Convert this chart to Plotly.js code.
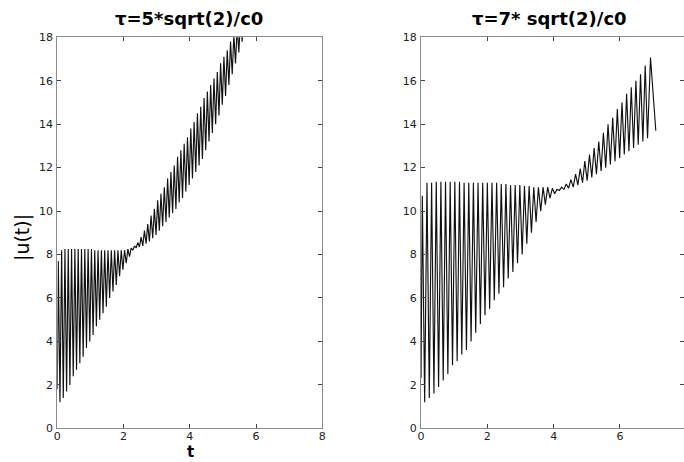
<!DOCTYPE html>
<html>
<head>
<meta charset="utf-8">
<script src="https://cdn.plot.ly/plotly-3.0.1.min.js"></script>
<style>html,body{margin:0;padding:0;background:#fff;overflow:hidden;}#chart{width:684px;height:462px;}</style>
</head>
<body>
<div id="chart"></div>
<script>
// Left panel: tau = 5*sqrt(2)/c0
const tLeft = [0, 0.03, 0.08, 0.13, 0.18, 0.23, 0.28, 0.33, 0.38, 0.43, 0.48, 0.53, 0.58, 0.63, 0.68, 0.73, 0.78, 0.83, 0.88, 0.93, 0.98,
  1.03, 1.08, 1.13, 1.18, 1.23, 1.28, 1.33, 1.38, 1.43, 1.48, 1.53, 1.58, 1.63, 1.68, 1.73, 1.78, 1.83, 1.88, 1.93, 1.98,
  2.03, 2.08, 2.13, 2.18, 2.23, 2.28, 2.33, 2.38, 2.43, 2.48, 2.53, 2.58, 2.63, 2.68, 2.73, 2.78, 2.83, 2.88, 2.93, 2.98,
  3.03, 3.08, 3.13, 3.18, 3.23, 3.28, 3.33, 3.38, 3.43, 3.48, 3.53, 3.58, 3.63, 3.68, 3.73, 3.78, 3.83, 3.88, 3.93, 3.98,
  4.03, 4.08, 4.13, 4.18, 4.23, 4.28, 4.33, 4.38, 4.43, 4.48, 4.53, 4.58, 4.63, 4.68, 4.73, 4.78, 4.83, 4.88, 4.93, 4.98,
  5.03, 5.08, 5.13, 5.18, 5.23, 5.28, 5.33, 5.38, 5.43, 5.48, 5.53, 5.58, 5.63];
const uLeft = [1.8, 7.7, 1.2, 8.2, 1.4, 8.25, 1.7, 8.25, 2.0, 8.25, 2.4, 8.25, 2.7, 8.25, 3.0, 8.25, 3.3, 8.25, 3.7, 8.25, 4.0,
  8.25, 4.3, 8.2, 4.7, 8.2, 5.0, 8.2, 5.3, 8.2, 5.6, 8.2, 6.0, 8.2, 6.3, 8.2, 6.6, 8.2, 7.0, 8.2, 7.3,
  8.2, 7.6, 8.25, 7.9, 8.3, 8.2, 8.4, 8.3, 8.55, 8.35, 8.8, 8.4, 9.1, 8.5, 9.4, 8.6, 9.8, 8.75, 10.1, 8.9,
  10.5, 9.1, 10.8, 9.3, 11.1, 9.5, 11.5, 9.7, 11.8, 9.9, 12.1, 10.1, 12.5, 10.4, 12.8, 10.6, 13.1, 10.9, 13.4, 11.2,
  13.8, 11.5, 14.1, 11.8, 14.5, 12.1, 14.8, 12.4, 15.2, 12.8, 15.5, 13.2, 15.8, 13.6, 16.1, 14.0, 16.4, 14.4, 16.8, 14.9,
  17.1, 15.3, 17.4, 15.8, 17.8, 16.3, 18.1, 16.8, 18.5, 17.3, 18.9, 17.8, 19.3];

// Right panel: tau = 7*sqrt(2)/c0
const tRight = [0, 0.04, 0.11, 0.18, 0.25, 0.32, 0.39, 0.46, 0.53, 0.60, 0.67, 0.74, 0.81, 0.88, 0.95,
  1.02, 1.09, 1.16, 1.23, 1.30, 1.37, 1.44, 1.51, 1.58, 1.65, 1.72, 1.79, 1.86, 1.93,
  2.00, 2.07, 2.14, 2.21, 2.28, 2.35, 2.42, 2.49, 2.56, 2.63, 2.70, 2.77, 2.84, 2.91, 2.98,
  3.05, 3.12, 3.19, 3.26, 3.33, 3.40, 3.47, 3.54, 3.61, 3.68, 3.75, 3.82, 3.89, 3.96,
  4.03, 4.10, 4.17, 4.24, 4.31, 4.38, 4.45, 4.52, 4.59, 4.66, 4.73, 4.80, 4.87, 4.94,
  5.01, 5.08, 5.15, 5.22, 5.29, 5.36, 5.43, 5.50, 5.57, 5.64, 5.71, 5.78, 5.85, 5.92, 5.99,
  6.06, 6.13, 6.20, 6.27, 6.34, 6.41, 6.48, 6.55, 6.62, 6.69, 6.76, 6.83, 6.92, 7.08];
const uRight = [2.3, 10.7, 1.2, 11.3, 1.4, 11.3, 1.6, 11.35, 1.9, 11.35, 2.2, 11.35, 2.5, 11.35, 2.9,
  11.35, 3.1, 11.35, 3.4, 11.3, 3.6, 11.3, 4.0, 11.3, 4.4, 11.3, 4.8, 11.3, 5.2,
  11.3, 5.5, 11.3, 5.9, 11.3, 6.2, 11.25, 6.5, 11.25, 6.9, 11.2, 7.2, 11.2, 7.6, 11.2,
  8.0, 11.15, 8.5, 11.15, 9.0, 11.1, 9.5, 11.1, 10.0, 11.1, 10.3, 11.1, 10.6, 11.05,
  10.8, 11.0, 10.95, 11.1, 11.0, 11.25, 11.05, 11.45, 11.1, 11.7, 11.2, 11.95, 11.3, 12.3,
  11.4, 12.6, 11.55, 12.9, 11.7, 13.2, 11.85, 13.6, 12.0, 14.0, 12.15, 14.3, 12.3, 14.7, 12.45,
  15.0, 12.6, 15.4, 12.75, 15.7, 12.9, 16.0, 13.05, 16.3, 13.2, 16.7, 13.35, 17.07, 13.7];

const xTicks = [0, 2, 4, 6, 8];
const yTicks = [0, 2, 4, 6, 8, 10, 12, 14, 16, 18];

const axisFont = {family: 'DejaVu Sans, Verdana, sans-serif', size: 11, color: '#222'};
function xAxis(domain, range) {
  return {domain: domain, range: range, tickvals: xTicks, ticks: 'inside', ticklen: 4, tickcolor: '#444',
    showline: true, linecolor: '#8a8a8a', linewidth: 1, mirror: 'ticks', showgrid: false, zeroline: false,
    tickfont: axisFont, automargin: false, fixedrange: true, ticklabelstandoff: -3};
}
function yAxis(anchor) {
  return {domain: [0.0729, 0.9193], range: [0, 18], tickvals: yTicks, anchor: anchor, ticks: 'inside', ticklen: 4,
    tickcolor: '#444', showline: true, linecolor: '#8a8a8a', linewidth: 1, mirror: 'ticks', showgrid: false,
    zeroline: false, tickfont: axisFont, automargin: false, fixedrange: true, ticklabelstandoff: 1};
}

const traces = [
  {x: tLeft, y: uLeft, type: 'scatter', mode: 'lines', xaxis: 'x', yaxis: 'y',
   line: {color: '#111', width: 1.15}, hoverinfo: 'skip'},
  {x: tRight, y: uRight, type: 'scatter', mode: 'lines', xaxis: 'x2', yaxis: 'y2',
   line: {color: '#111', width: 1.15}, hoverinfo: 'skip'}
];

const titleFont = {family: 'DejaVu Sans, Verdana, sans-serif', size: 18, color: '#000'};
const layout = {
  width: 684, height: 462,
  margin: {l: 0, r: 0, t: 0, b: 0},
  paper_bgcolor: '#fff', plot_bgcolor: '#fff',
  showlegend: false,
  xaxis: xAxis([0.0838, 0.4712], [0, 8]),
  yaxis: yAxis('x'),
  xaxis2: xAxis([0.6155, 1], [0, 7.93]),
  yaxis2: yAxis('x2'),
  annotations: [
    {text: '<b>τ=5*sqrt(2)/c0</b>', xref: 'paper', yref: 'paper', x: 189 / 684, y: 1 - 19 / 462,
     xanchor: 'center', yanchor: 'middle', showarrow: false, font: titleFont},
    {text: '<b>τ=7* sqrt(2)/c0</b>', xref: 'paper', yref: 'paper', x: 549 / 684, y: 1 - 19 / 462,
     xanchor: 'center', yanchor: 'middle', showarrow: false, font: titleFont},
    {text: '|u(t)|', xref: 'paper', yref: 'paper', x: 22 / 684, y: 1 - 238 / 462,
     xanchor: 'center', yanchor: 'middle', showarrow: false, textangle: -90,
     font: {family: 'DejaVu Sans, Verdana, sans-serif', size: 19, color: '#000'}},
    {text: '<b>t</b>', xref: 'paper', yref: 'paper', x: 190 / 684, y: 0,
     xanchor: 'center', yanchor: 'bottom', showarrow: false, borderpad: 0,
     font: {family: 'DejaVu Sans, Verdana, sans-serif', size: 15, color: '#000'}}
  ]
};

Plotly.newPlot('chart', traces, layout, {displayModeBar: false, staticPlot: true});
</script>
</body>
</html>
